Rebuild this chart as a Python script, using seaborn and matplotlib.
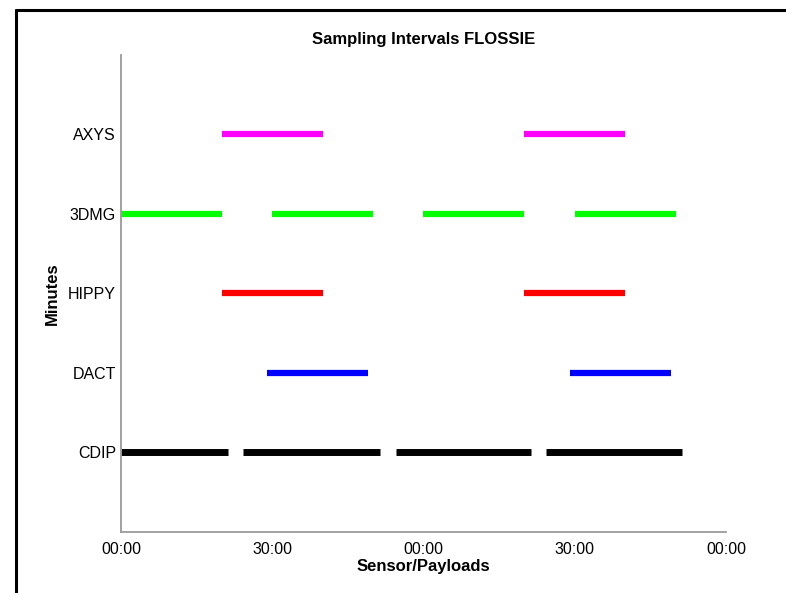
"""
Sampling intervals chart: horizontal bars per sensor over a two-hour window.
"""

import pandas as pd
import matplotlib
matplotlib.use("Agg")
import matplotlib.pyplot as plt
import matplotlib.ticker as mticker
from matplotlib.lines import Line2D
import seaborn as sns

# sensors, bottom to top
sensors = ["CDIP", "DACT", "HIPPY", "3DMG", "AXYS"]
colors = ["#000000", "#0000ff", "#ff0000", "#00ff00", "#ff00ff"]

# sampling windows in minutes (start, end)
cdip_windows = [(0, 21.2), (24.3, 51.4), (54.6, 81.4), (84.3, 111.3)]
dact_windows = [(29, 49), (89, 109)]
hippy_windows = [(20, 40), (80, 100)]
dmg_windows = [(0, 20), (30, 50), (60, 80), (90, 110)]
axys_windows = [(20, 40), (80, 100)]

windows = [cdip_windows, dact_windows, hippy_windows, dmg_windows, axys_windows]
x_ticks = [0, 30, 60, 90, 120]

rows = []
for i, (name, wins) in enumerate(zip(sensors, windows)):
    for j, (start, end) in enumerate(wins):
        rows.append({"sensor": name, "seg": j, "minute": start, "pos": i + 1})
        rows.append({"sensor": name, "seg": j, "minute": end, "pos": i + 1})
df = pd.DataFrame(rows)

sns.set_style("white")
plt.rcParams["font.family"] = ["Liberation Sans", "DejaVu Sans"]
plt.rcParams["text.color"] = "black"
plt.rcParams["axes.labelcolor"] = "black"

fig = plt.figure(figsize=(7.86, 5.93), dpi=100)
ax = fig.add_axes([0.1539, 0.1029, 0.7698, 0.8044])

for name, col in zip(sensors, colors):
    sub = df[df["sensor"] == name]
    lw = 5.0 if name == "CDIP" else 4.5
    sns.lineplot(data=sub, x="minute", y="pos", units="seg", estimator=None,
                 color=col, linewidth=lw, solid_capstyle="butt", ax=ax,
                 legend=False)

ax.set_xlim(0, 120)
ax.set_ylim(0, 6)
ax.set_xticks(x_ticks)
ax.xaxis.set_major_formatter(
    mticker.FuncFormatter(lambda x, _: f"{int(round(x)) % 60:02d}:00"))
ax.set_yticks(range(1, len(sensors) + 1))
ax.set_yticklabels(sensors)

for side in ["top", "right"]:
    ax.spines[side].set_visible(False)
for side in ["left", "bottom"]:
    ax.spines[side].set_color("#9a9a9a")
    ax.spines[side].set_linewidth(1.3)
ax.tick_params(direction="in", length=4, width=1, color="#9a9a9a",
               labelsize=11.5, labelcolor="#000000", pad=3.5)
ax.tick_params(axis="x", pad=7)

ax.set_title("Sampling Intervals FLOSSIE", fontsize=12, fontweight="bold", pad=8)
ax.set_xlabel("Sensor/Payloads", fontsize=12, fontweight="bold", labelpad=2)
ax.set_ylabel("Minutes", fontsize=12, fontweight="bold", labelpad=6)

# screenshot frame (top and left edges)
fig.add_artist(Line2D([16 / 786, 1], [1 - 10 / 593] * 2, transform=fig.transFigure,
                      color="black", linewidth=2.2))
fig.add_artist(Line2D([16 / 786] * 2, [0, 1 - 10 / 593], transform=fig.transFigure,
                      color="black", linewidth=2.2))

fig.savefig("out.png", dpi=100)
plt.close(fig)
